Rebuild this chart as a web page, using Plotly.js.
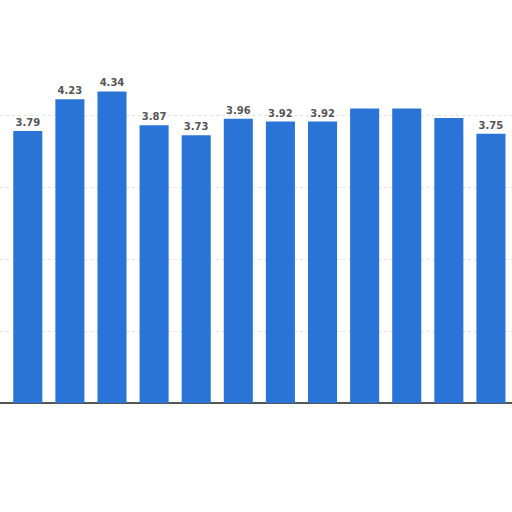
<!DOCTYPE html>
<html>
<head>
<meta charset="utf-8">
<script src="https://cdn.plot.ly/plotly-3.0.1.min.js"></script>
<style>
  html, body { margin: 0; padding: 0; background: #fff; }
  #chart { width: 512px; height: 512px; }
</style>
</head>
<body>
<div id="chart"></div>
<script>
// bar categories (no axis labels are shown in the picture)
var categories = ["1", "2", "3", "4", "5", "6", "7", "8", "9", "10", "11", "12"];
var values = [3.79, 4.23, 4.34, 3.87, 3.73, 3.96, 3.92, 3.92, 4.10, 4.10, 3.97, 3.75];
// value labels drawn above bars (three bars carry none)
var labels = ["3.79", "4.23", "4.34", "3.87", "3.73", "3.96", "3.92", "3.92", "", "", "", "3.75"];

window.onload = function() {
  Plotly.newPlot(document.getElementById('chart'),
    [{
      x: categories,
      y: values,
      type: 'bar',
      marker: { color: '#2a74d8' },
      text: labels,
      textposition: 'outside',
      cliponaxis: false,
      textfont: { family: 'DejaVu Sans', size: 10, color: '#555', weight: 'bold' },
      hoverinfo: 'none'
    }],
    {
      width: 512,
      height: 512,
      margin: { l: 0, r: 0, t: 44, b: 109, pad: 0 },
      paper_bgcolor: '#fff',
      plot_bgcolor: '#fff',
      bargap: 0.31,
      showlegend: false,
      xaxis: {
        type: 'category',
        range: [-0.66, 11.5],
        showticklabels: false,
        ticks: '',
        showgrid: false,
        showline: false,
        zeroline: false
      },
      yaxis: {
        range: [0, 5],
        dtick: 1,
        showticklabels: false,
        ticks: '',
        gridcolor: '#e2e2e2',
        griddash: 'dot',
        gridwidth: 1,
        zeroline: true,
        zerolinecolor: '#555',
        zerolinewidth: 1.5
      }
    },
    { displayModeBar: false, staticPlot: true }
  );
}
</script>
</body>
</html>
